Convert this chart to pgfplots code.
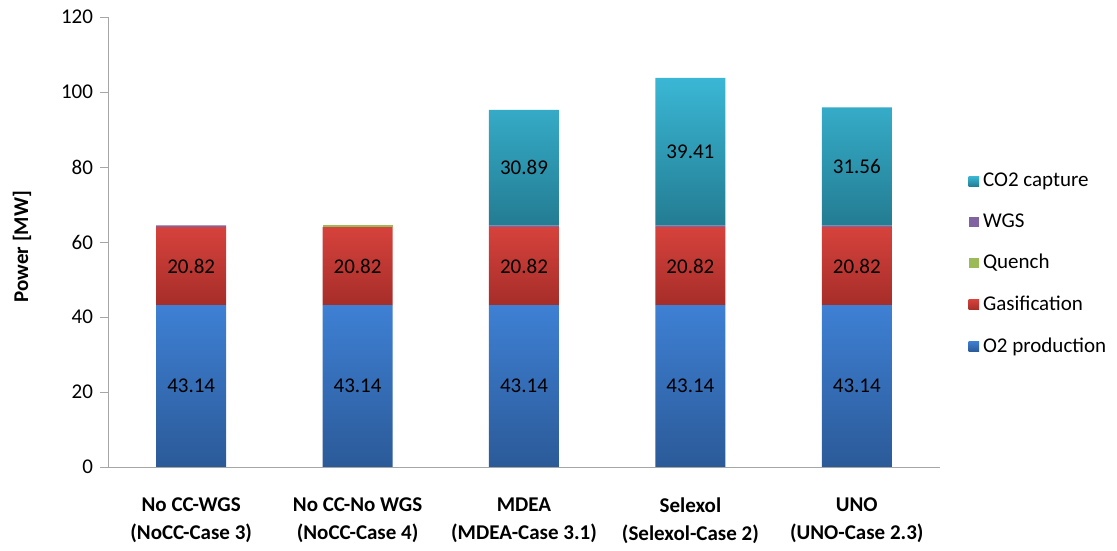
\documentclass[border=0pt]{standalone}
\usepackage{fontspec}
\setmainfont{Carlito}
\usepackage{pgfplots}
\pgfplotsset{compat=1.18}
\usepackage{pgfplotstable}

\definecolor{o2top}{RGB}{62,128,212}
\definecolor{o2bot}{RGB}{43,90,152}
\definecolor{gatop}{RGB}{214,66,60}
\definecolor{gabot}{RGB}{166,45,41}
\definecolor{quench}{RGB}{155,187,89}
\definecolor{wgs}{RGB}{128,100,162}
\definecolor{cctop}{RGB}{58,183,213}
\definecolor{ccbot}{RGB}{35,124,146}
\definecolor{axisgray}{RGB}{166,166,166}

% power demand per case [MW]
\pgfplotstableread{
x o2 gas quench wgs co2
0 43.14 20.82 0.0 0.5 0
1 43.14 20.82 0.5 0.0 0
2 43.14 20.82 0.0 0.4 30.89
3 43.14 20.82 0.0 0.4 39.41
4 43.14 20.82 0.0 0.4 31.56
}\powertable

\newcommand\basefont{\fontsize{10.5}{12.6}\selectfont}

\pgfplotsset{
  sq legend/.style={legend image code/.code={\fill[##1] (0pt,-2.6pt) rectangle (5.2pt,2.6pt);}},
  % value label in the middle of its own segment
  mid label/.style={
    nodes near coords={\pgfmathfloatifflags{\pgfplotspointmeta}{0}{}{\pgfmathprintnumber[fixed,fixed zerofill,precision=2]{\pgfplotspointmeta}}},
    every node near coord/.append style={anchor=center, font=\basefont, text=black},
  },
}

\begin{document}
\begin{tikzpicture}
\begin{axis}[
  name=ax,
  scale only axis, width=416pt, height=225pt,
  ybar stacked, bar width=35pt,
  xmin=-0.5, xmax=4.5, ymin=0, ymax=120,
  ytick={0,20,...,120},
  xtick={0,1,2,3,4},
  xticklabels={{No CC-WGS\\(NoCC-Case 3)},{No CC-No WGS\\(NoCC-Case 4)},{MDEA\\(MDEA-Case 3.1)},{Selexol\\(Selexol-Case 2)},{UNO\\(UNO-Case 2.3)}},
  xticklabel style={align=center, font=\fontsize{10.5}{14}\selectfont\bfseries, yshift=-8pt},
  yticklabel style={font=\basefont},
  /pgf/number format/assume math mode=true,
  axis lines=left, axis line style={draw=axisgray, -},
  tick align=outside, major tick length=4pt,
  ytick style={draw=axisgray}, xtick style={draw=none},
  ylabel={Power [MW]},
  every axis y label/.style={at={(axis description cs:-0.1034,0.49)}, rotate=90, anchor=center, font=\basefont\bfseries},
  reverse legend,
  legend cell align=left,
  legend style={at={(1.034,0.451)}, anchor=west, draw=none, fill=none, font=\basefont, row sep=8pt, inner xsep=0pt},
]
\addplot[draw=none, top color=o2top, bottom color=o2bot, sq legend, mid label] table[x=x, y=o2] {\powertable};
\addlegendentry{O2 production}
\addplot[draw=none, top color=gatop, bottom color=gabot, sq legend, mid label] table[x=x, y=gas] {\powertable};
\addlegendentry{Gasification}
\addplot[draw=none, fill=quench, sq legend] table[x=x, y=quench] {\powertable};
\addlegendentry{Quench}
\addplot[draw=none, fill=wgs, sq legend] table[x=x, y=wgs] {\powertable};
\addlegendentry{WGS}
\addplot[draw=none, top color=cctop, bottom color=ccbot, sq legend, mid label] table[x=x, y=co2] {\powertable};
\addlegendentry{CO2 capture}
\end{axis}
\path ([xshift=-54pt,yshift=-39pt]ax.south west) rectangle ([xshift=88.5pt,yshift=8.5pt]ax.north east);
\end{tikzpicture}
\end{document}
